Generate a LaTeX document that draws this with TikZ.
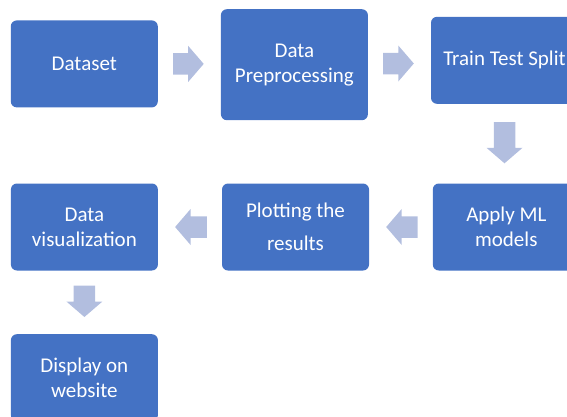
\documentclass[tikz,border=0pt]{standalone}
\usepackage{fontspec}
\setmainfont{Carlito}
\usetikzlibrary{positioning,calc}
\definecolor{boxblue}{HTML}{4472C4}
\definecolor{arrowblue}{HTML}{B2BEDF}

% block arrow between two anchors, optional tail gap
\newcommand{\blockarrow}[3][15pt]{%
  \coordinate (ar-tail) at ($(#2)!#1!(#3)$);
  \coordinate (ar-tip) at ($(#3)!#1+2pt!(#2)$);
  \coordinate (ar-base) at ($(ar-tip)!15.5pt!(ar-tail)$);
  \fill[arrowblue]
    ($(ar-tail)!10.75pt!90:(ar-tip)$) -- ($(ar-base)!10.75pt!90:(ar-tip)$)
    -- ($(ar-base)!18pt!90:(ar-tip)$) -- (ar-tip)
    -- ($(ar-base)!18pt!-90:(ar-tip)$) -- ($(ar-base)!10.75pt!-90:(ar-tip)$)
    -- ($(ar-tail)!10.75pt!-90:(ar-tip)$) -- cycle;
}

\begin{document}
\begin{tikzpicture}[
  x=1pt,y=-1pt,
  stepbox/.style={
    fill=boxblue,
    rounded corners=6pt,
    text=white,
    align=center,
    inner sep=2pt,
    minimum width=147pt,
    minimum height=87pt,
    font=\fontsize{21}{25}\selectfont,
    }
  ]
  \useasboundingbox (0,0) rectangle (567,416);
  \clip (0,0) rectangle (567,416);

  \node[stepbox] (dataset)
    at (84.3,63.9) {Dataset};
  \node[stepbox,minimum height=111pt,right=62.7pt of dataset,yshift=-0.8pt] (prep)
    {Data\\Preprocessing};
  \node[stepbox,right=62.7pt of prep,yshift=4.4pt] (train)
    {Train Test Split};
  \node[stepbox,below=79.3pt of train,xshift=1.8pt] (apply)
    {Apply ML\\models};
  \node[stepbox,left=63.4pt of apply] (plot)
    {Plotting the\\[8pt]results};
  \node[stepbox,left=63.7pt of plot] (viz)
    {Data\\visualization};
  \node[stepbox,below=63.3pt of viz] (display)
    {Display on\\website};

  \blockarrow{dataset.east}{prep.west |- dataset.east}
  \blockarrow{prep.east |- 0,63.5}{train.west |- 0,63.5}
  \blockarrow[18pt]{train.south}{train.south |- apply.north}
  \blockarrow{apply.west}{plot.east}
  \blockarrow{plot.west}{viz.east}
  \blockarrow{viz.south}{display.north}
\end{tikzpicture}
\end{document}
